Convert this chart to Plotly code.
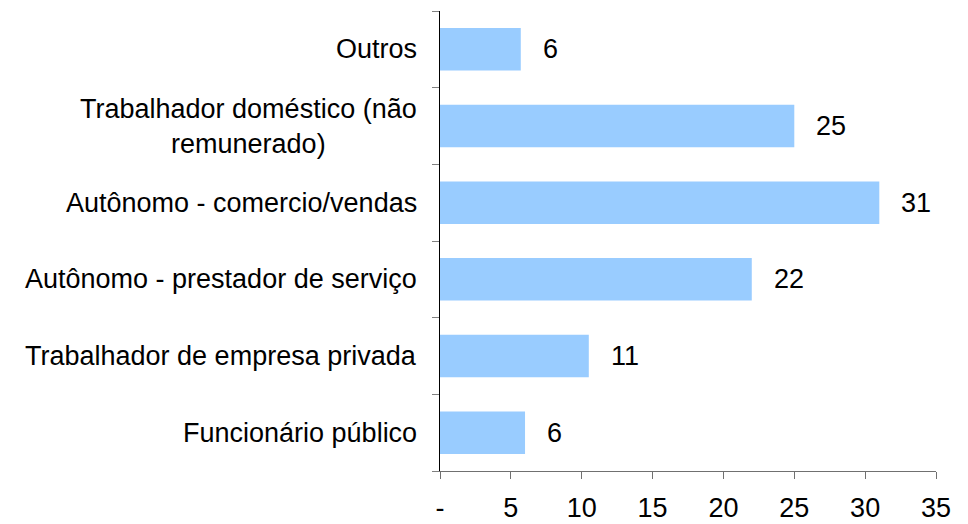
import plotly.graph_objects as go

categories = ["Funcionário público", "Trabalhador de empresa privada",
              "Autônomo - prestador de serviço", "Autônomo - comercio/vendas",
              "Trabalhador doméstico (não<br>remunerado)", "Outros"]
values = [6.0, 10.5, 22.0, 31.0, 25.0, 5.7]
value_labels = ["6", "11", "22", "31", "25", "6"]
tick_vals = [0, 5, 10, 15, 20, 25, 30, 35]
tick_text = ["-", "5", "10", "15", "20", "25", "30", "35"]

FONT = "Liberation Sans, Arial, sans-serif"
FS = 27

fig = go.Figure(go.Bar(
    x=values, y=categories, orientation="h",
    marker=dict(color="#99CCFF", line=dict(width=0)),
    hoverinfo="skip",
))

annotations = []
for c, v, t in zip(categories, values, value_labels):
    annotations.append(dict(x=v, y=c, xref="x", yref="y", text=t, showarrow=False,
                            xanchor="left", xshift=20, font=dict(size=FS, color="black", family=FONT)))
    annotations.append(dict(x=0, y=c, xref="paper", yref="y", text=c, showarrow=False,
                            xanchor="right", xshift=-21, align="center",
                            font=dict(size=FS, color="black", family=FONT)))

fig.update_layout(
    width=968, height=524,
    margin=dict(l=440, r=32, t=11, b=53),
    plot_bgcolor="white", paper_bgcolor="white",
    bargap=0.446, showlegend=False,
    font=dict(family=FONT, size=FS, color="black"),
    annotations=annotations,
    xaxis=dict(range=[0, 35], tickvals=tick_vals, ticktext=tick_text, automargin=False,
               showgrid=False, zeroline=False, showline=True, linecolor="#707070", linewidth=1,
               ticks="outside", ticklen=7, tickcolor="#707070",
               ticklabelstandoff=6, tickfont=dict(size=FS, color="black", family=FONT)),
    yaxis=dict(type="category", showticklabels=False, showgrid=False, zeroline=False,
               automargin=False,
               showline=True, linecolor="black", linewidth=1,
               ticks="outside", tickson="boundaries", ticklen=7, tickcolor="#808080"),
)

fig.write_html("out.html", config={"displayModeBar": False, "staticPlot": True},
               post_script="document.body.style.margin='0';document.body.style.overflow='hidden';")
